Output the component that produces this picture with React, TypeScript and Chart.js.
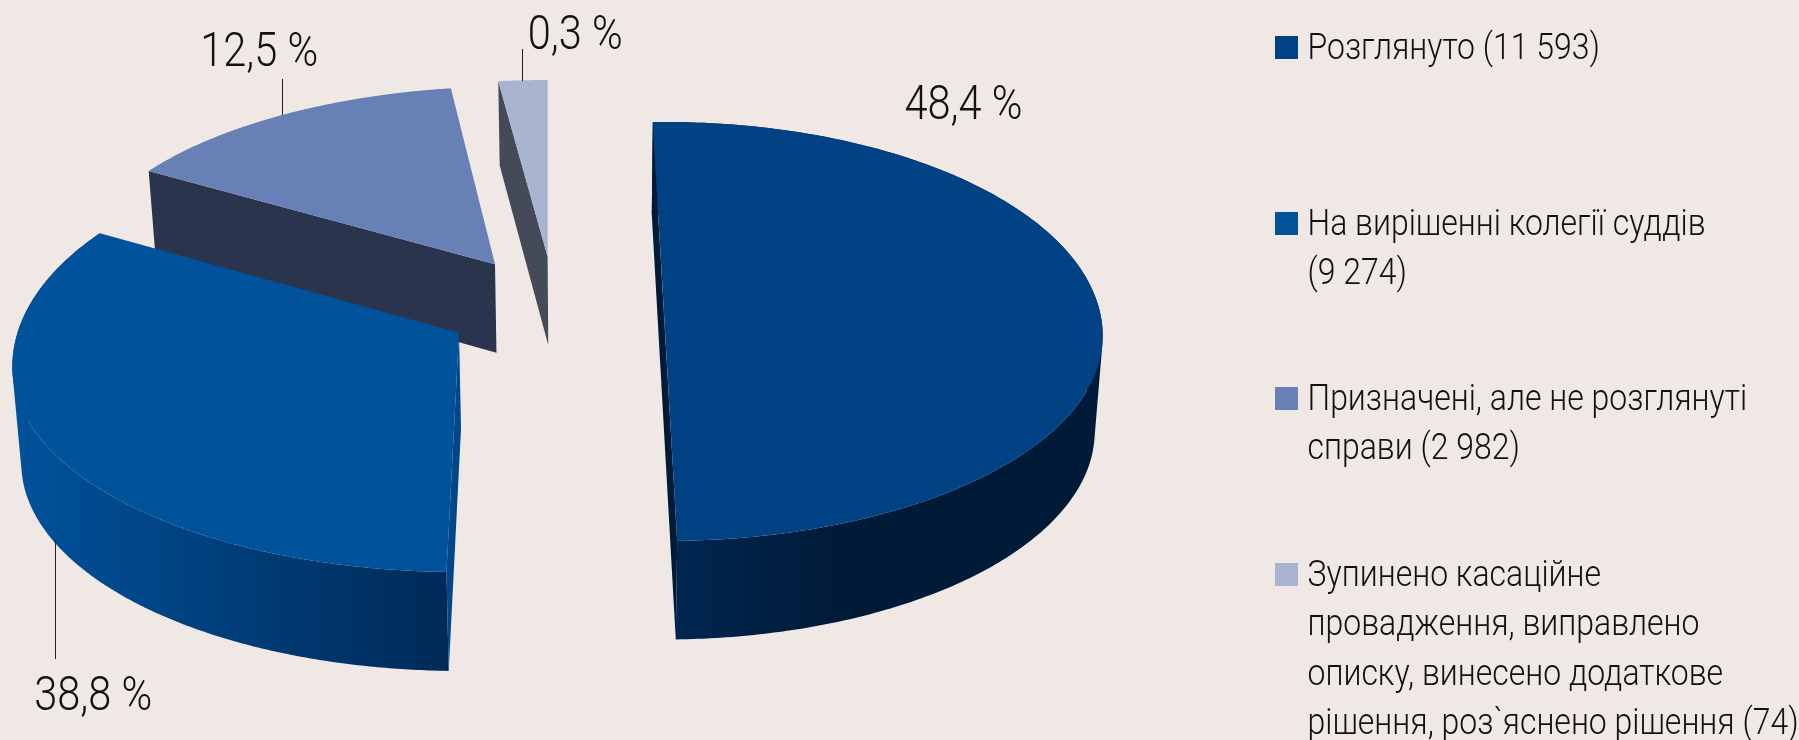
import React, { useEffect, useRef } from "react";
import { Chart, registerables } from "chart.js";

Chart.register(...registerables);

const categories = [
  "Розглянуто (11 593)",
  "На вирішенні колегії суддів (9 274)",
  "Призначені, але не розглянуті справи (2 982)",
  "Зупинено касаційне провадження, виправлено описку, винесено додаткове рішення, роз`яснено рішення (74)",
];
const caseCounts = [11593, 9274, 2982, 74];
const percentLabels = ["48,4 %", "38,8 %", "12,5 %", "0,3 %"];
const legendLines = [
  ["Розглянуто (11 593)"],
  ["На вирішенні колегії суддів", "(9 274)"],
  ["Призначені, але не розглянуті", "справи (2 982)"],
  ["Зупинено касаційне", "провадження, виправлено", "описку, винесено додаткове", "рішення, роз`яснено рішення (74)"],
];
const topColors = ["#004283", "#00529b", "#6780b6", "#a9b4d1"];

const BG = "#efe8e5";
const rad = (d: number) => (d * Math.PI) / 180;

// Look of the tilted, exploded pie: one projected disc per slice.
const looks = [
  { e: [665, 336], a: [437.7, 0], bb: [0, -214], bf: [0, -205], apex: [665, 330], adj: [-1.6, 3.95], drop: [90.8, 0.0143], cut: "#001b38", wall: ["#002650", "#001b37"], wallX: [675, 840], outer: true },
  { e: [459, 367], a: [446.7, 0], bb: [0, -225], bf: [0, -205], apex: [459, 332.7], adj: [7.15, -7.51], drop: [90.8, 0.0143], cut: "#00468a", wall: ["#00529b", "#002a58"], wallX: [12, 448], outer: true },
  { e: [495, 264.3], a: [415, -25.9], bb: [-44.2, -176], bf: [-44.2, -176], apex: [495, 264.3], adj: [-4.01, 1.12], drop: [82.5, 0.0225], cut: "#2a344d", wall: null, wallX: [0, 1], outer: false },
  { e: [547.6, 256.7], a: [417, 0], bb: [0, -176.7], bf: [0, -176.7], apex: [547.6, 256.7], adj: [-5.68, 0], drop: [82.5, 0.0225], cut: "#454a59", wall: null, wallX: [0, 1], outer: false },
];
const paintOrder = [2, 3, 0, 1];
const percentSpots = [[904.5, 118.5], [34.2, 710], [200.2, 66], [527.8, 49.3]];
const leaders = [null, [55.5, 540, 659], [282.5, 79, 115], [522.5, 49, 81]];
const swatchTops = [36, 212, 387, 563];
const legendBaselines = [[59], [235, 284.3], [410, 459.3], [586, 635.3, 685, 734]];

const Squeeze = { pct: 0.865, legend: 0.888 };

function drawText(ctx: CanvasRenderingContext2D, s: string, x: number, y: number, font: string, sx: number) {
  ctx.save();
  ctx.font = font;
  ctx.fillStyle = "#111111";
  ctx.textAlign = "left";
  ctx.textBaseline = "alphabetic";
  ctx.translate(x, y);
  ctx.scale(sx, 1);
  ctx.fillText(s, 0, 0);
  ctx.restore();
}

const tiltedPie = {
  id: "tiltedPie",
  beforeDatasetsDraw(chart: any) {
    const ctx: CanvasRenderingContext2D = chart.ctx;
    const arcs = chart.getDatasetMeta(0).data;
    const colors = chart.data.datasets[0].backgroundColor;
    const top = (g: any, phiDeg: number) => {
      const p = rad(phiDeg);
      const s = Math.sin(p);
      const co = Math.cos(p);
      const b = co > 0 ? g.bb : g.bf;
      return [g.e[0] + g.a[0] * s + b[0] * co, g.e[1] + g.a[1] * s + b[1] * co];
    };
    const low = (g: any, q: number[]) => [q[0] + (589 - q[0]) * 0.0156, q[1] + g.drop[0] + g.drop[1] * q[1]];
    const trace = (pts: number[][]) => {
      pts.forEach((q, i) => (i ? ctx.lineTo(q[0], q[1]) : ctx.moveTo(q[0], q[1])));
      ctx.closePath();
    };
    const poly = (pts: number[][], fill: any) => {
      ctx.beginPath();
      trace(pts);
      ctx.fillStyle = fill;
      ctx.fill();
    };
    const area = (pts: number[][]) =>
      pts.reduce((sum, q, i) => {
        const r = pts[(i + 1) % pts.length];
        return sum + q[0] * r[1] - r[0] * q[1];
      }, 0);
    paintOrder.forEach((i) => {
      const g = looks[i];
      const st = (arcs[i].startAngle * 180) / Math.PI + 90 + g.adj[0];
      const en = (arcs[i].endAngle * 180) / Math.PI + 90 + g.adj[1];
      const rim: number[][] = [];
      for (let n = 0; n <= 240; n++) rim.push(top(g, st + ((en - st) * n) / 240));
      const cen = g.apex;
      const first = rim[0];
      const last = rim[rim.length - 1];
      if (g.outer) {
        const grad = ctx.createLinearGradient(g.wallX[0], 0, g.wallX[1], 0);
        grad.addColorStop(0, g.wall![0]);
        grad.addColorStop(1, g.wall![1]);
        ctx.beginPath();
        for (let n = 0; n < rim.length - 1; n++) {
          const quad = [rim[n], rim[n + 1], low(g, rim[n + 1]), low(g, rim[n])];
          trace(area(quad) < 0 ? quad.reverse() : quad);
        }
        ctx.fillStyle = grad;
        ctx.fill("nonzero");
      }
      if (i === 0) poly([first, last, low(g, last), low(g, first)], g.cut);
      else poly([first, cen, low(g, cen), low(g, first)], g.cut);
      poly([cen, ...rim], colors[i]);
    });
    return false;
  },
  afterDraw(chart: any) {
    const ctx: CanvasRenderingContext2D = chart.ctx;
    const colors = chart.data.datasets[0].backgroundColor;
    ctx.save();
    ctx.strokeStyle = "#222222";
    ctx.lineWidth = 1;
    leaders.forEach((l) => {
      if (!l) return;
      ctx.beginPath();
      ctx.moveTo(l[0], l[1]);
      ctx.lineTo(l[0], l[2]);
      ctx.stroke();
    });
    ctx.restore();
    percentLabels.forEach((s, i) =>
      drawText(ctx, s, percentSpots[i][0], percentSpots[i][1], "300 48px Roboto", Squeeze.pct)
    );
    legendLines.forEach((lines, i) => {
      ctx.fillStyle = colors[i];
      ctx.fillRect(1275, swatchTops[i], 23, 23);
      lines.forEach((s, j) =>
        drawText(ctx, s, 1307.5, legendBaselines[i][j], "300 36px Roboto", Squeeze.legend)
      );
    });
  },
};

export default function App() {
  const ref = useRef<HTMLCanvasElement>(null);
  useEffect(() => {
    document.body.style.margin = "0";
    document.body.style.background = BG;
    document.body.style.overflow = "hidden";
    const chart = new Chart(ref.current!, {
      type: "pie",
      data: {
        labels: categories,
        datasets: [{ data: caseCounts, backgroundColor: topColors, borderWidth: 0 }],
      },
      options: {
        responsive: false,
        animation: false,
        events: [],
        plugins: { legend: { display: false }, tooltip: { enabled: false }, title: { display: false } },
      },
      plugins: [tiltedPie],
    } as any);
    return () => chart.destroy();
  }, []);
  return <canvas ref={ref} width={1799} height={740} style={{ display: "block", width: 1799, height: 740, background: BG }} />;
}
